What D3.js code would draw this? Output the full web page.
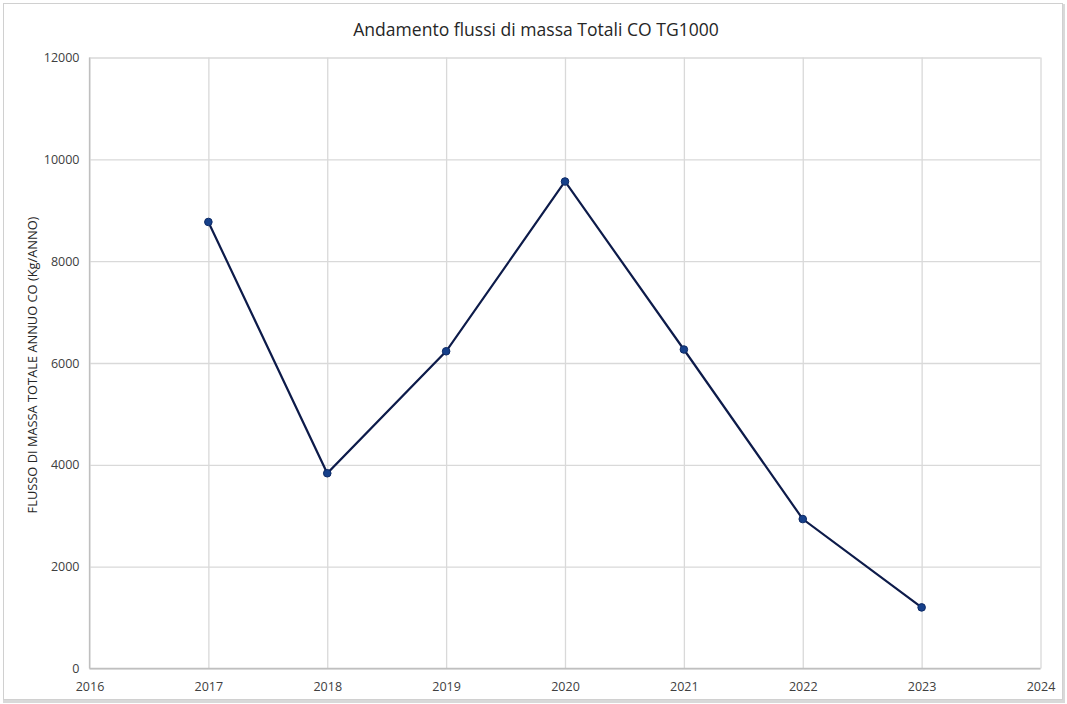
<!DOCTYPE html>
<html>
<head>
<meta charset="utf-8">
<script src="https://cdn.jsdelivr.net/npm/d3@7"></script>
<style>
  html, body { margin: 0; padding: 0; background: #ffffff; }
  svg { display: block; }
  text { font-family: "Open Sans", "Liberation Sans", sans-serif; }
</style>
</head>
<body>
<svg id="chart" width="1067" height="704"></svg>
<script>
const title = "Andamento flussi di massa Totali CO TG1000";
const yLabel = "FLUSSO DI MASSA TOTALE ANNUO CO (Kg/ANNO)";
const years = [2017, 2018, 2019, 2020, 2021, 2022, 2023];
const values = [8770, 3835, 6230, 9565, 6265, 2935, 1200];
const xTicks = [2016, 2017, 2018, 2019, 2020, 2021, 2022, 2023, 2024];
const yTicks = [0, 2000, 4000, 6000, 8000, 10000, 12000];

const svg = d3.select("#chart");
const W = 1067, H = 704;
const plot = { left: 89.5, right: 1040.5, top: 57.5, bottom: 668.5 };

// outer border with slight shadow
svg.append("rect").attr("x", 3).attr("y", 4).attr("width", W - 5).attr("height", H - 5)
  .attr("fill", "#d9d9d9");
svg.append("rect").attr("x", 3.5).attr("y", 3.5).attr("width", W - 8).attr("height", H - 8)
  .attr("fill", "#ffffff").attr("stroke", "#d0d0d0").attr("stroke-width", 1);

const x = d3.scaleLinear().domain([2016, 2024]).range([plot.left, plot.right]);
const y = d3.scaleLinear().domain([0, 12000]).range([plot.bottom, plot.top]);

// gridlines
const gx = svg.append("g").attr("transform", `translate(0,${plot.bottom})`)
  .call(d3.axisBottom(x).tickValues(xTicks).tickSize(-(plot.bottom - plot.top)).tickFormat(""));
gx.selectAll(".tick line").attr("stroke", "#d9d9d9").attr("stroke-width", 1.3);
gx.select(".domain").remove();

const gy = svg.append("g").attr("transform", `translate(${plot.left},0)`)
  .call(d3.axisLeft(y).tickValues(yTicks).tickSize(-(plot.right - plot.left)).tickFormat(""));
gy.selectAll(".tick line").attr("stroke", "#d9d9d9").attr("stroke-width", 1.3);
gy.select(".domain").remove();

// axis lines
svg.append("line").attr("x1", plot.left).attr("x2", plot.right).attr("y1", plot.bottom).attr("y2", plot.bottom)
  .attr("stroke", "#bfbfbf").attr("stroke-width", 1.3);
svg.append("line").attr("x1", plot.left).attr("x2", plot.left).attr("y1", plot.top).attr("y2", plot.bottom)
  .attr("stroke", "#bfbfbf").attr("stroke-width", 1.3);

// tick labels
const xl = svg.append("g").attr("transform", `translate(0,${plot.bottom})`)
  .call(d3.axisBottom(x).tickValues(xTicks).tickSize(0).tickPadding(14).tickFormat(d3.format("d")));
xl.select(".domain").remove();
xl.selectAll("text").attr("font-size", 12.5).attr("fill", "#404040")
  .style("font-family", '"Open Sans", sans-serif');

const yl = svg.append("g").attr("transform", `translate(${plot.left},0)`)
  .call(d3.axisLeft(y).tickValues(yTicks).tickSize(0).tickPadding(10).tickFormat(d3.format("d")));
yl.select(".domain").remove();
yl.selectAll("text").attr("font-size", 12.5).attr("fill", "#404040")
  .style("font-family", '"Open Sans", sans-serif');

// title
const t = svg.append("text").attr("x", 536).attr("y", 36).attr("text-anchor", "middle")
  .attr("font-size", 18).attr("fill", "#262626").text(title);
const tw = t.node().getComputedTextLength();
t.attr("font-size", 18 * 366 / tw);

// y label
const yt = svg.append("text").attr("transform", `translate(37,${(plot.top + plot.bottom) / 2 + 2}) rotate(-90)`)
  .attr("text-anchor", "middle").attr("font-size", 12.5).attr("fill", "#262626").text(yLabel);
const yw = yt.node().getComputedTextLength();
yt.attr("font-size", 12.5 * 297 / yw);

// line
const data = years.map((yr, i) => ({ yr, v: values[i] }));
svg.append("path").datum(data)
  .attr("d", d3.line().x(d => x(d.yr)).y(d => y(d.v)))
  .attr("fill", "none").attr("stroke", "#0d1b4a").attr("stroke-width", 2.2);

svg.selectAll("circle.pt").data(data).enter().append("circle")
  .attr("class", "pt").attr("cx", d => x(d.yr)).attr("cy", d => y(d.v)).attr("r", 3.8)
  .attr("fill", "#16408a").attr("stroke", "#0d2a66").attr("stroke-width", 1);
</script>
</body>
</html>
